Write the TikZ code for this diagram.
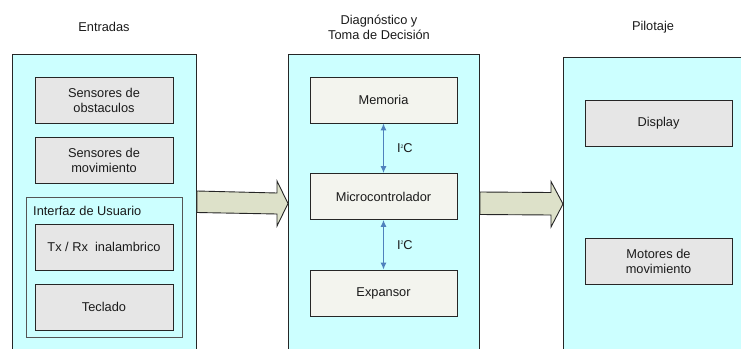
\documentclass[tikz,border=0pt]{standalone}
\usepackage{fontspec}
\setmainfont{Liberation Sans}
\usetikzlibrary{arrows.meta,calc}
\definecolor{panelcyan}{HTML}{CCFFFF}
\definecolor{boxgray}{HTML}{E6E6E6}
\definecolor{boxlight}{HTML}{F3F4EE}
\definecolor{arrowfill}{HTML}{DDE1C9}
\definecolor{linkblue}{HTML}{4F81BD}
\definecolor{edge}{HTML}{262626}
\definecolor{groupedge}{HTML}{555555}
\definecolor{textcol}{HTML}{1A1A1A}
\tikzset{
  every node/.style={font=\fontsize{12.8}{15}\selectfont, text=textcol, inner sep=0pt},
  panel/.style={draw=edge, line width=0.9pt, fill=panelcyan, anchor=north west},
  grayblock/.style={draw=edge, line width=0.9pt, fill=boxgray, minimum width=138pt, minimum height=46pt, align=center},
  lightblock/.style={draw=edge, line width=0.9pt, fill=boxlight, minimum width=147pt, minimum height=46pt, align=center},
  groupbox/.style={draw=groupedge, line width=0.9pt, fill=panelcyan, anchor=north west},
  title/.style={align=center},
  blockarrow/.style={draw=edge, line width=0.9pt, fill=arrowfill},
  link/.style={draw=linkblue, line width=1pt, {Latex[length=7pt,width=6pt]}-{Latex[length=7pt,width=6pt]}},
}
\begin{document}
\begin{tikzpicture}[x=1pt,y=-1pt]
\useasboundingbox (0,0) rectangle (741,348);
\begin{scope}
\clip (0,0) rectangle (741,348);
% panels
\node[panel, minimum width=184pt, minimum height=320pt] (pin) at (12,54) {};
\node[panel, minimum width=191pt, minimum height=320pt] (pmid) at (288,54) {};
\node[panel, minimum width=200pt, minimum height=320pt] (pout) at (563,57) {};
\end{scope}
% titles
\node[title] (tin) at (104,27) {Entradas};
\node[title] (tmid) at (379,27) {Diagnóstico y\\Toma de Decisión};
\node[title] (tout) at (653,27) {Pilotaje};
% left panel
\node[grayblock] (obst) at (104,100) {Sensores de\\obstaculos};
\node[grayblock] (mov) at (104,160) {Sensores de\\movimiento};
\node[groupbox, minimum width=156pt, minimum height=140pt] (ui) at (26,197) {};
\node[anchor=west] (uilabel) at (33,211) {Interfaz de Usuario};
\node[grayblock] (txrx) at (104,247) {Tx / Rx\ \ inalambrico};
\node[grayblock] (tec) at (104,307) {Teclado};
% middle panel
\node[lightblock] (mem) at (383.5,100) {Memoria};
\node[lightblock] (mcu) at (383.5,196.5) {Microcontrolador};
\node[lightblock] (exp) at (383.5,293) {Expansor};
\draw[link] (mem.south) -- (mcu.north) node[midway, anchor=west, xshift=13pt] (i2ca) {I{\fontsize{5}{5}\selectfont\raisebox{4.5pt}{2}}C};
\draw[link] (mcu.south) -- (exp.north) node[midway, anchor=west, xshift=13pt] (i2cb) {I{\fontsize{5}{5}\selectfont\raisebox{4.5pt}{2}}C};
% right panel
\node[grayblock, minimum width=147pt] (disp) at (658.5,123) {Display};
\node[grayblock, minimum width=147pt] (mot) at (658.5,261) {Motores de\\movimiento};
% block arrows
\coordinate (a1s) at (pin.east |- 0,202);
\coordinate (a1t) at (pmid.west |- 0,203.5);
\draw[blockarrow] ($(a1s)+(0,-11)$) -- ($(a1t)+(-11,-10.5)$) -- ($(a1t)+(-11,-22.5)$) -- (a1t)
  -- ($(a1t)+(-11,22.5)$) -- ($(a1t)+(-11,10.5)$) -- ($(a1s)+(0,10.5)$) -- cycle;
\coordinate (a2s) at (pmid.east |- 0,203.5);
\coordinate (a2t) at (pout.west |- 0,204);
\draw[blockarrow] ($(a2s)+(0,-11.5)$) -- ($(a2t)+(-12,-11.5)$) -- ($(a2t)+(-12,-22.5)$) -- (a2t)
  -- ($(a2t)+(-12,23)$) -- ($(a2t)+(-12,11)$) -- ($(a2s)+(0,11)$) -- cycle;
\end{tikzpicture}
\end{document}
